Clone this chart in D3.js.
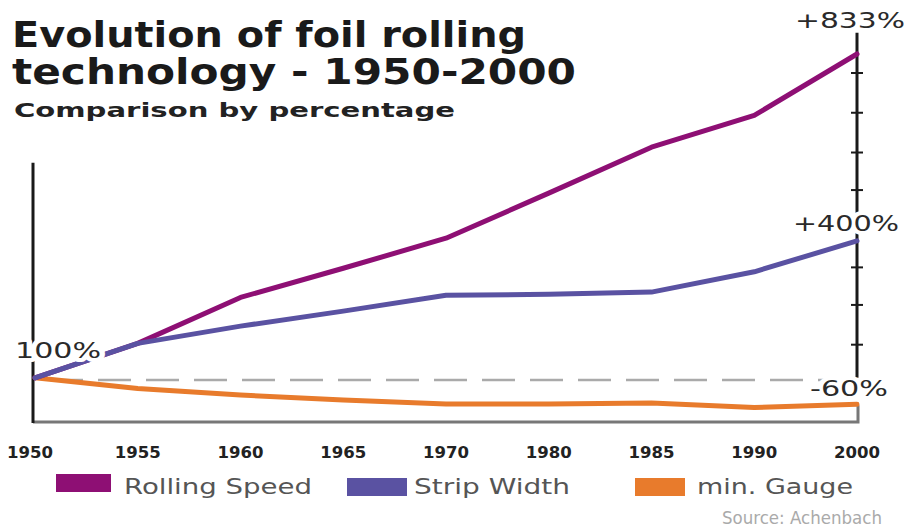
<!DOCTYPE html>
<html>
<head>
<meta charset="utf-8">
<script src="https://cdn.jsdelivr.net/npm/d3@7"></script>
<style>
  body { margin: 0; background: #fff; }
  svg { display: block; }
</style>
</head>
<body>
<div id="chart"></div>
<script>
// Data (percent of 1950 level)
const years = ["1950", "1955", "1960", "1965", "1970", "1980", "1985", "1990", "2000"];
const rollingSpeed = [100, 178, 282, 348, 416, 518, 622, 694, 833];
const stripWidth = [100, 178, 217, 251, 287, 289, 294, 340, 410];
const minGauge = [100, 76, 61, 50, 41, 41, 43, 33, 40];
const seriesNames = ["Rolling Speed", "Strip Width", "min. Gauge"];
const seriesColors = ["#8e0f74", "#5a52a2", "#e87b2c"];
const rightTicks = [175, 265, 350, 525, 610, 700, 790];
const endLabels = ["+833%", "+400%", "-60%"];

const width = 920, height = 527;

const svg = d3.select("#chart")
  .append("svg")
  .attr("width", width)
  .attr("height", height);

// Scales
const x = d3.scalePoint()
  .domain(years)
  .range([35, 857]);

const y = d3.scaleLinear()
  .domain([0, 833])
  .range([422, 54]);

// Title
const titleFont = "'DejaVu Sans', sans-serif";
svg.append("text")
  .attr("x", 12).attr("y", 47)
  .attr("font-family", titleFont).attr("font-weight", "bold")
  .attr("font-size", 36)
  .attr("textLength", 514).attr("lengthAdjust", "spacingAndGlyphs")
  .attr("fill", "#1a1a1a")
  .text("Evolution of foil rolling");

svg.append("text")
  .attr("x", 12).attr("y", 84)
  .attr("font-family", titleFont).attr("font-weight", "bold")
  .attr("font-size", 36)
  .attr("textLength", 564).attr("lengthAdjust", "spacingAndGlyphs")
  .attr("fill", "#1a1a1a")
  .text("technology - 1950-2000");

svg.append("text")
  .attr("x", 14).attr("y", 117)
  .attr("font-family", titleFont).attr("font-weight", "bold")
  .attr("font-size", 20)
  .attr("textLength", 441).attr("lengthAdjust", "spacingAndGlyphs")
  .attr("fill", "#222")
  .text("Comparison by percentage");

// Bottom axis line (gray) with short right end
svg.append("path")
  .attr("d", `M${x("1950") - 2},${y(0)} H${x("2000") + 1} V${y(38)}`)
  .attr("fill", "none")
  .attr("stroke", "#777")
  .attr("stroke-width", 3);

// Left axis (black)
svg.append("line")
  .attr("x1", 33).attr("x2", 33)
  .attr("y1", y(587)).attr("y2", y(0) + 1)
  .attr("stroke", "#1a1a1a")
  .attr("stroke-width", 3);

// Right axis with ticks
const rightX = x("2000");
svg.append("line")
  .attr("x1", rightX).attr("x2", rightX)
  .attr("y1", y(100)).attr("y2", y(881))
  .attr("stroke", "#1a1a1a")
  .attr("stroke-width", 3);

svg.append("g")
  .selectAll("line")
  .data(rightTicks)
  .enter().append("line")
  .attr("x1", rightX - 6).attr("x2", rightX + 6)
  .attr("y1", d => y(d)).attr("y2", d => y(d))
  .attr("stroke", "#1a1a1a")
  .attr("stroke-width", 2);

// Dashed reference line
svg.append("line")
  .attr("x1", 50).attr("x2", 850)
  .attr("y1", y(95)).attr("y2", y(95))
  .attr("stroke", "#aaa")
  .attr("stroke-width", 2.5)
  .attr("stroke-dasharray", "33,15");

// Series lines
const series = [rollingSpeed, stripWidth, minGauge];
const line = d3.line()
  .x((d, i) => x(years[i]))
  .y(d => y(d));

// orange first, then purple, blue on top (blue covers purple near 1950)
[2, 0, 1].forEach(k => {
  svg.append("path")
    .datum(series[k])
    .attr("fill", "none")
    .attr("stroke", seriesColors[k])
    .attr("stroke-width", 5)
    .attr("stroke-linejoin", "round")
    .attr("stroke-linecap", "round")
    .attr("d", line);
});

// Value labels (white halo breaks the axis lines like the original)
const labelFont = "'DejaVu Sans', sans-serif";
function valueLabel(xPos, yPos, txt, len) {
  svg.append("text")
    .attr("x", xPos).attr("y", yPos)
    .attr("font-family", labelFont)
    .attr("font-size", 22)
    .attr("textLength", len).attr("lengthAdjust", "spacingAndGlyphs")
    .attr("fill", "#2a2a2a")
    .attr("stroke", "#fff")
    .attr("stroke-width", 8)
    .attr("paint-order", "stroke")
    .attr("stroke-linejoin", "round")
    .text(txt);
}
valueLabel(15, 358, "100%", 86);
valueLabel(795, 28, endLabels[0], 110);
valueLabel(793, 231, endLabels[1], 106);
valueLabel(810, 396, endLabels[2], 78);

// Year labels
svg.append("g")
  .selectAll("text")
  .data(years)
  .enter().append("text")
  .attr("x", (d, i) => i === 0 ? x(d) - 5 : x(d))
  .attr("y", 458)
  .attr("text-anchor", "middle")
  .attr("font-family", labelFont)
  .attr("font-weight", "bold")
  .attr("font-size", 15)
  .attr("textLength", 46).attr("lengthAdjust", "spacingAndGlyphs")
  .attr("fill", "#222")
  .text(d => d);

// Legend
const legendX = [56, 347, 635];
const legendRectW = [55, 60, 50];
const legendTextX = [124, 414, 697];
const legendTextW = [188, 156, 156];
const legend = svg.append("g");
seriesNames.forEach((name, i) => {
  legend.append("rect")
    .attr("x", legendX[i]).attr("y", 477 + (i > 0 ? 1 : -3))
    .attr("width", legendRectW[i]).attr("height", 18)
    .attr("fill", seriesColors[i]);
  legend.append("text")
    .attr("x", legendTextX[i]).attr("y", 494)
    .attr("font-family", labelFont)
    .attr("font-size", 22)
    .attr("textLength", legendTextW[i]).attr("lengthAdjust", "spacingAndGlyphs")
    .attr("fill", "#555")
    .text(name);
});

// Source note
svg.append("text")
  .attr("x", 722).attr("y", 524)
  .attr("font-family", "'Liberation Sans Narrow', 'DejaVu Sans Condensed', sans-serif")
  .attr("font-size", 17)
  .attr("textLength", 160).attr("lengthAdjust", "spacingAndGlyphs")
  .attr("fill", "#aaa")
  .text("Source: Achenbach");
</script>
</body>
</html>
